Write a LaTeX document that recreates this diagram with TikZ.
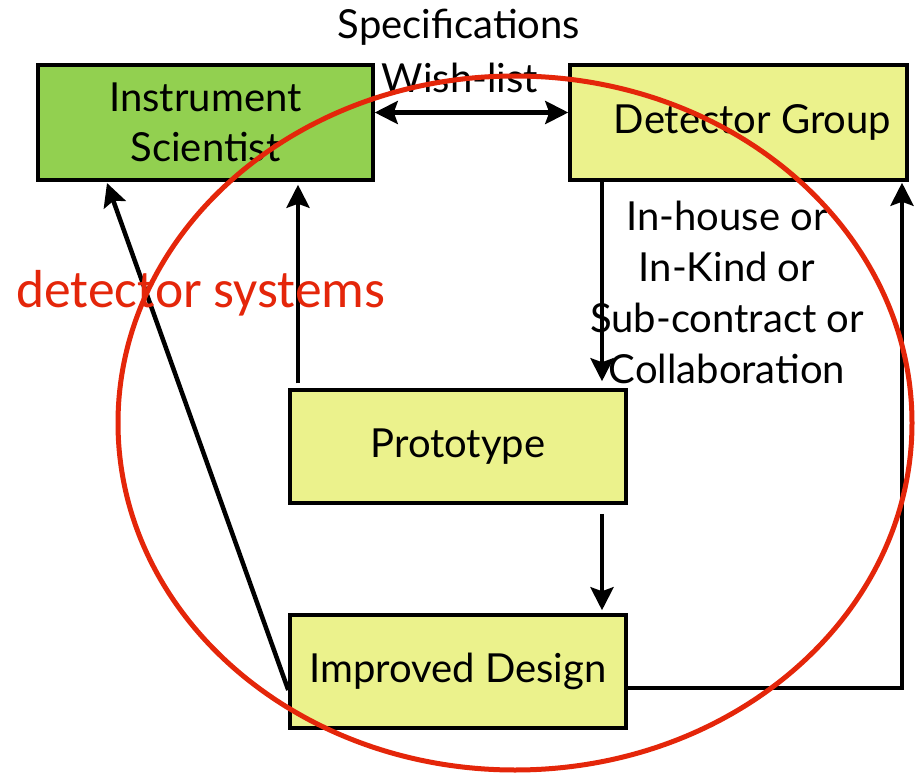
\documentclass[tikz,border=0pt]{standalone}
\usepackage{fontspec}
\setmainfont{Lato}
\newfontfamily\calibrifont{Carlito}
\usetikzlibrary{arrows.meta}
\definecolor{isgreen}{RGB}{146,208,80}
\definecolor{dgyellow}{RGB}{235,242,140}
\definecolor{loopred}{RGB}{228,38,10}
\tikzset{
  box/.style={draw=black, line width=3.5pt, minimum width=336pt, minimum height=113pt,
    inner sep=0pt, align=center, font=\fontsize{40}{50}\selectfont},
  flow/.style={-{Stealth[length=23pt,width=23pt,inset=4pt]}, line width=4.5pt},
  note/.style={align=center, inner sep=0pt, font=\fontsize{40}{51}\selectfont}
}

\begin{document}
\begin{tikzpicture}[x=1pt,y=-1pt]
\useasboundingbox (0,0) rectangle (916,773);
\node[box, fill=isgreen, minimum width=335pt, minimum height=115pt] (is) at (205.5,122.5) {Instrument\\Scientist};
\node[box, fill=dgyellow, minimum width=337pt, minimum height=115pt] (dg) at (738.5,122.5) {\hspace*{28pt}Detector Group};
\node[box, fill=dgyellow] (proto) at (458,446.5) {Prototype};
\node[box, fill=dgyellow] (impr) at (458,671.5) {Improved Design};
\node[note] (spec) at (459,27) {Specifications};
\node[note] (wish) at (460,78) {Wish-list};
\node[note] (how) at (727,292) {In-house or\\In-Kind or\\Sub-contract or\\Collaboration};
% arrows
\draw[flow, {Stealth[length=23pt,width=23pt,inset=4pt]}-{Stealth[length=23pt,width=23pt,inset=4pt]}]
  ([yshift=10pt]is.east) -- ([yshift=10pt]dg.west);
\draw[flow, shorten >=7pt] (602,0 |- dg.south) -- (602,0 |- proto.north);
\draw[flow, shorten <=5pt, shorten >=3pt] (298,0 |- proto.north) -- (298,0 |- is.south);
\draw[flow, shorten <=9pt, shorten >=3pt] (602,0 |- proto.south) -- (602,0 |- impr.north);
\coordinate (isfoot) at (107,183);
\draw[flow] ([yshift=-18.5pt]impr.west) -- (isfoot);
\coordinate (corner) at (902,688);
\draw[flow, shorten >=1pt] (impr.east |- corner) -- (corner) -- (corner |- dg.south);
% red loop
\node[text=loopred, inner sep=0pt, font=\calibrifont\fontsize{53.5}{60}\selectfont] (sys) at (201,293) {detector systems};
\draw[loopred, line width=5pt] (515,423) ellipse [x radius=397, y radius=347];
\end{tikzpicture}
\end{document}
